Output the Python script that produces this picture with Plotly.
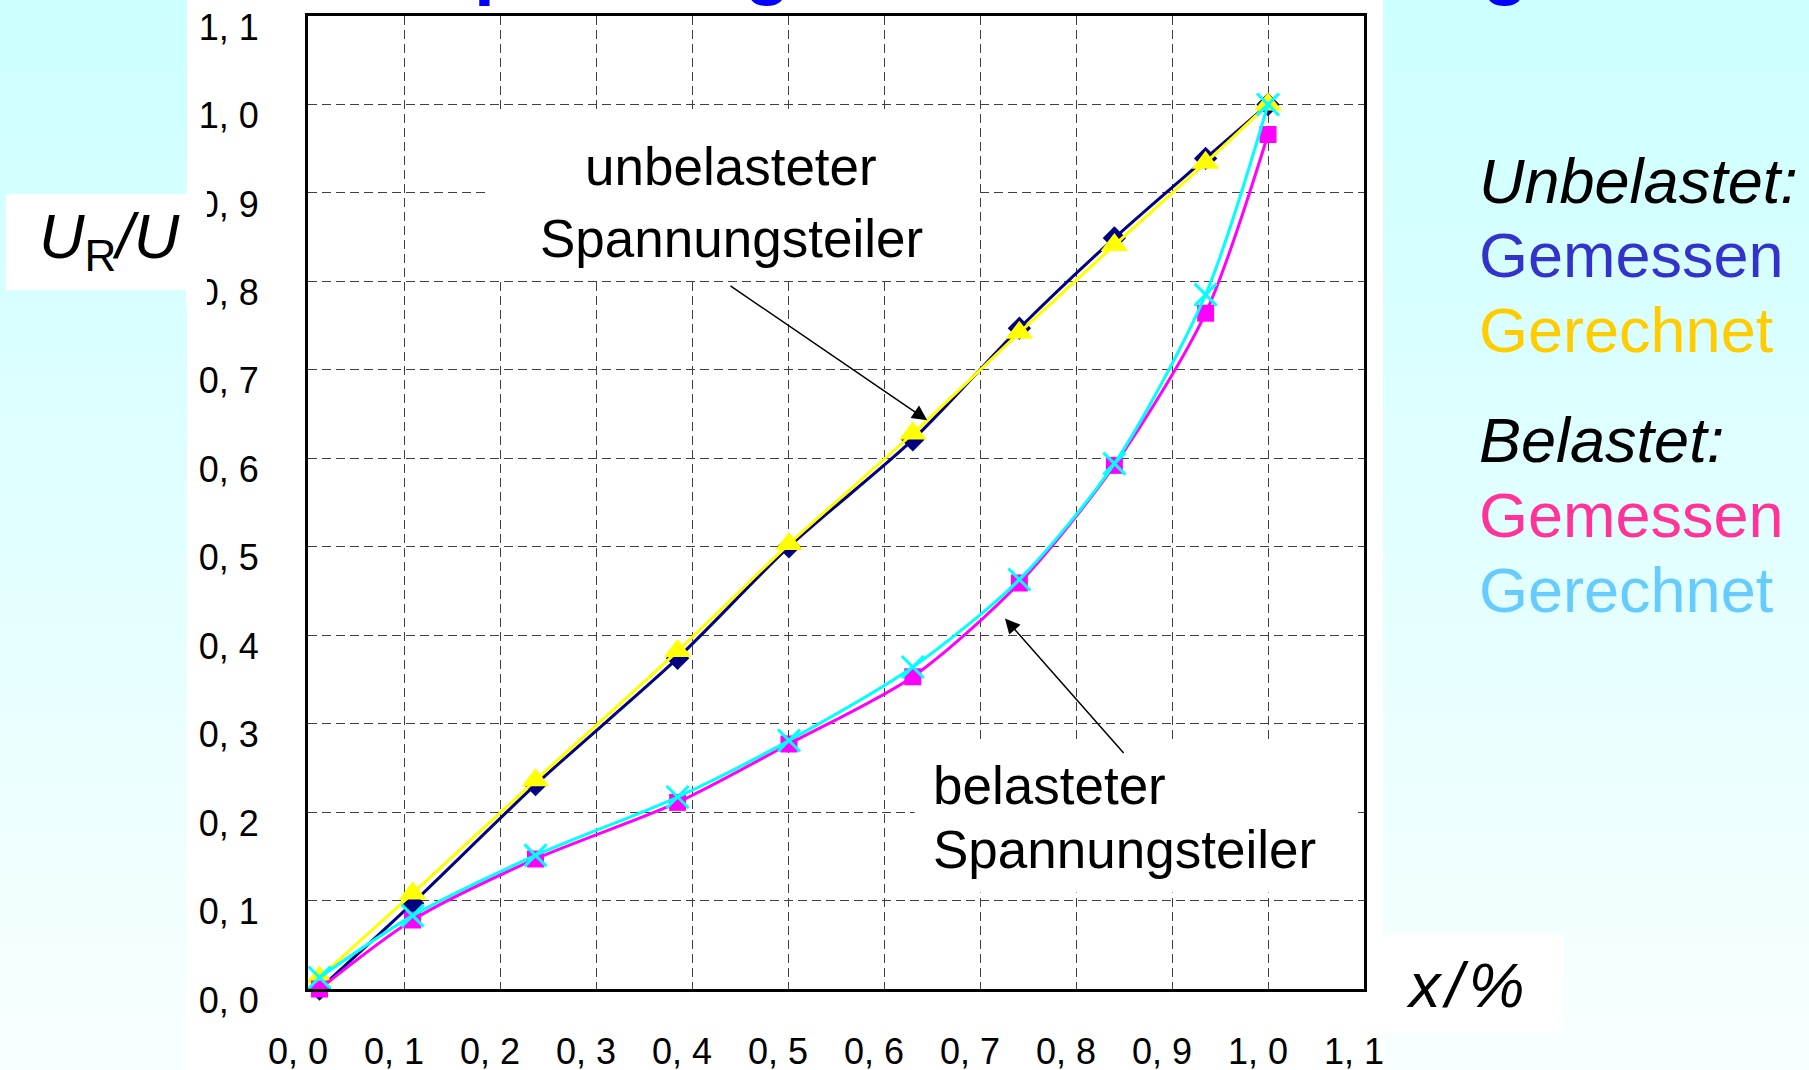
import plotly.graph_objects as go

# ---------------- data ----------------
x_pos = [0.012, 0.109, 0.237, 0.385, 0.501, 0.630, 0.741, 0.840, 0.935, 1.000]
unb_gemessen = [0.000, 0.097, 0.231, 0.374, 0.500, 0.621, 0.747, 0.849, 0.939, 1.000]
unb_gerechnet = [0.013, 0.108, 0.236, 0.382, 0.503, 0.628, 0.742, 0.841, 0.934, 1.000]
bel_gemessen = [0.000, 0.078, 0.147, 0.211, 0.277, 0.353, 0.459, 0.592, 0.764, 0.966]
bel_gerechnet = [0.013, 0.083, 0.151, 0.217, 0.281, 0.364, 0.463, 0.594, 0.785, 1.000]

tick_vals = [0.0, 0.1, 0.2, 0.3, 0.4, 0.5, 0.6, 0.7, 0.8, 0.9, 1.0, 1.1]
tick_text = ["0, 0", "0, 1", "0, 2", "0, 3", "0, 4", "0, 5",
             "0, 6", "0, 7", "0, 8", "0, 9", "1, 0", "1, 1"]

# ---------------- layout geometry ----------------
FIG_W, FIG_H = 1809, 1070
L, T, R, B = 308, 16, 1364, 989
PW, PH = R - L, B - T
FONT = "Liberation Sans, Arial, sans-serif"


def px(x):
    return (x - L) / PW


def py(y):
    return (B - y) / PH


fig = go.Figure()

series = [
    ("Unbelastet gemessen", unb_gemessen, "#000080", "diamond", 18, None),
    ("Unbelastet gerechnet", unb_gerechnet, "#ffff00", "triangle-up", 24, None),
    ("Belastet gemessen", bel_gemessen, "#ff00ff", "square", 17, None),
    ("Belastet gerechnet", bel_gerechnet, "#00ffff", "x-thin", 22, 3),
]
for name, ys, col, sym, size, lw in series:
    marker = dict(symbol=sym, size=size, color=col)
    if lw:
        marker["line"] = dict(color=col, width=lw)
    else:
        marker["line"] = dict(width=0)
    fig.add_trace(go.Scatter(
        x=x_pos, y=ys, name=name, mode="lines+markers",
        line=dict(color=col, width=3, shape="spline", smoothing=0.8),
        marker=marker, cliponaxis=False, showlegend=False,
    ))

shapes = []
# gradient background (cyan -> almost white)
N = 60
for i in range(N):
    t = i / (N - 1)
    r = int(round(204 + (248 - 204) * t))
    y_top = FIG_H * i / N
    y_bot = FIG_H * (i + 1) / N + 1
    shapes.append(dict(type="rect", xref="paper", yref="paper", layer="below",
                       x0=px(-2), x1=px(FIG_W + 2), y0=py(y_bot), y1=py(y_top - 1),
                       fillcolor=f"rgb({r},255,255)", line=dict(width=0)))
# white panel behind chart
shapes.append(dict(type="rect", xref="paper", yref="paper", layer="below",
                   x0=px(187), x1=px(1383), y0=py(FIG_H + 2), y1=py(-2),
                   fillcolor="white", line=dict(width=0)))
# white box behind y label (drawn over the tick labels, as in the slide)
shapes.append(dict(type="rect", xref="paper", yref="paper", layer="above",
                   x0=px(6), x1=px(188), y0=py(290), y1=py(194),
                   fillcolor="white", line=dict(width=0)))
shapes.append(dict(type="rect", xref="paper", yref="paper", layer="above",
                   x0=px(186), x1=px(207), y0=py(306), y1=py(190),
                   fillcolor="white", line=dict(width=0)))
# white box behind x label
shapes.append(dict(type="rect", xref="paper", yref="paper", layer="below",
                   x0=px(1382), x1=px(1563), y0=py(1032), y1=py(935),
                   fillcolor="white", line=dict(width=0)))
# white boxes behind in-plot labels (cover the grid)
shapes.append(dict(type="rect", xref="x", yref="y", layer="between",
                   x0=0.187, x1=0.695, y0=0.803, y1=0.995,
                   fillcolor="white", line=dict(width=0)))
shapes.append(dict(type="rect", xref="x", yref="y", layer="between",
                   x0=0.632, x1=1.091, y0=0.109, y1=0.279,
                   fillcolor="white", line=dict(width=0)))

annotations = []


def text_ann(txt, xpix, base_pix, size, color="black", anchor="center"):
    cy = base_pix - 0.3465 * size
    annotations.append(dict(
        text=txt, xref="paper", yref="paper", x=px(xpix), y=py(cy),
        xanchor=anchor, yanchor="middle", showarrow=False,
        font=dict(family=FONT, size=size, color=color)))


# partially visible title (cut off at top edge)
text_ann("<b>Spannungsteiler mit Belastung</b>", 422, -9, 75, color="#0000ff", anchor="left")

# right side legend text
text_ann("<i>Unbelastet:</i>", 1477, 203, 63, anchor="left")
text_ann("Gemessen", 1477, 277, 63, color="#3333cc", anchor="left")
text_ann("Gerechnet", 1477, 352, 63, color="#ffcc00", anchor="left")
text_ann("<i>Belastet:</i>", 1477, 462, 63, anchor="left")
text_ann("Gemessen", 1477, 537, 63, color="#ff3399", anchor="left")
text_ann("Gerechnet", 1477, 612, 63, color="#66ccff", anchor="left")

# axis titles
text_ann("<i>U</i><sub>R</sub><i>/U</i>", 109, 262, 63)
text_ann("<i>x</i>\u200a<i>/</i>\u200a<i>%</i>", 1465, 1007, 63)

# in-plot labels
text_ann("unbelasteter", 731, 185, 53)
text_ann("Spannungsteiler", 731, 257, 53)
text_ann("belasteter", 931, 804, 53, anchor="left")
text_ann("Spannungsteiler", 931, 868, 53, anchor="left")

# arrows
for (hx, hy, tx, ty) in [(0.645, 0.643, 0.4385, 0.796), (0.726, 0.419, 0.851, 0.265)]:
    annotations.append(dict(
        x=hx, y=hy, ax=tx, ay=ty, xref="x", yref="y", axref="x", ayref="y",
        text="", showarrow=True, arrowhead=2, arrowsize=2, arrowwidth=1.5,
        arrowcolor="black"))

axis_common = dict(
    range=[-0.000001, 1.100001], tickvals=tick_vals, ticktext=tick_text,
    showgrid=True, gridcolor="#404040", gridwidth=1, griddash="9px,5px",
    zeroline=False, showline=True, linecolor="black", linewidth=3, mirror=True,
    ticks="", tickfont=dict(family=FONT, size=36, color="black"),
    automargin=False, fixedrange=True,
)

fig.update_layout(
    template="none",
    width=FIG_W, height=FIG_H,
    margin=dict(l=L, r=FIG_W - R, t=T, b=FIG_H - B, pad=0),
    paper_bgcolor="#ccffff", plot_bgcolor="white",
    xaxis=dict(**axis_common, ticklabelstandoff=29, ticklabelshift=-10),
    yaxis=dict(**axis_common, ticklabelstandoff=39, ticklabelshift=11),
    shapes=shapes, annotations=annotations,
    showlegend=False,
)

fig.write_html("out.html", config={"displayModeBar": False},
               post_script="document.body.style.margin='0px';")
